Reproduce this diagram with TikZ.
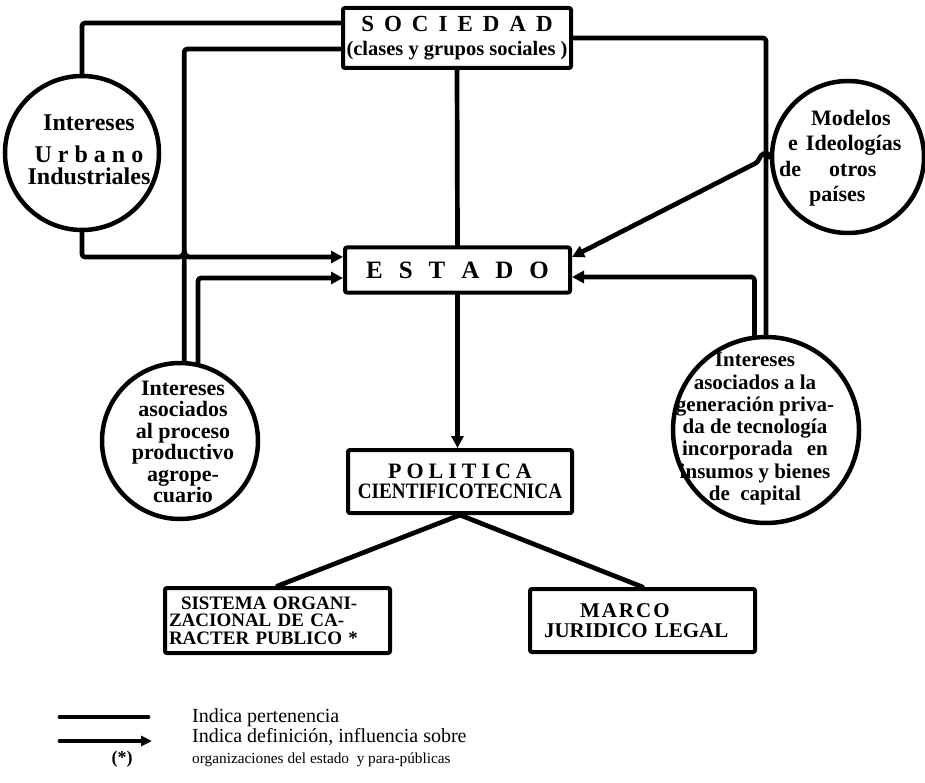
\documentclass[tikz,border=0pt]{standalone}
\usepackage{fontspec}
\setmainfont{Liberation Serif}
\usepackage{graphicx}
\usetikzlibrary{arrows.meta,calc}
\tikzset{
  conn/.style={line width=4.7pt, line join=round, line cap=round, rounded corners=3pt},
  arr/.style={conn, -{Triangle[length=12pt,width=12pt]}},
  box/.style={draw, line width=4pt, rounded corners=2pt, inner sep=0pt},
  circ/.style={draw, circle, line width=4.5pt, inner sep=0pt},
  ctext/.style={font=\bfseries\fontsize{22}{21.5}\selectfont, align=center, inner sep=0pt},
  legend/.style={anchor=base west, inner sep=0pt, font=\fontsize{20}{21}\selectfont},
}
\begin{document}
\begin{tikzpicture}[x=1pt,y=-1pt]
\useasboundingbox (0,0) rectangle (925,783);
% boxes
\node[box, minimum width=228pt, minimum height=60pt, align=center,
      font=\bfseries\fontsize{23}{24.5}\selectfont] (soc) at (457,38)
  {S\hspace{10pt}O\hspace{10pt}C\hspace{10pt}I\hspace{10pt}E\hspace{10pt}D\hspace{10pt}A\hspace{10pt}D\\
   {\fontsize{20.5}{24.5}\selectfont (clases y grupos sociales )}};
\node[box, minimum width=225pt, minimum height=45pt, font=\bfseries\fontsize{25}{25}\selectfont] (est) at (457.5,270)
  {E\hspace{16pt}S\hspace{16pt}T\hspace{16pt}A\hspace{16pt}D\hspace{16pt}O};
\node[box, minimum width=224pt, minimum height=63pt, align=center,
      font=\bfseries\fontsize{22}{20.5}\selectfont] (pol) at (460,481.5)
  {P\hspace{5pt}O\hspace{5pt}L\hspace{5pt}I\hspace{5pt}T\hspace{5pt}I\hspace{5pt}C\hspace{5pt}A\\
   \scalebox{0.87}[1]{CIENTIFICOTECNICA}};
\node[box, minimum width=225pt, minimum height=65pt, text width=217pt, align=left,
      font=\bfseries\fontsize{19}{17.5}\selectfont] (sis) at (277.5,620.5)
  {\hspace*{12pt}SISTEMA ORGANI-\\ ZACIONAL DE CA-\\ RACTER PUBLICO *};
\node[box, minimum width=225pt, minimum height=63pt, text width=215pt, align=left,
      font=\bfseries\fontsize{21}{20}\selectfont] (mar) at (642.5,620.5)
  {\hspace*{45pt}M\hspace{2pt}A\hspace{2pt}R\hspace{2pt}C\hspace{2pt}O\\ \hspace*{9pt}JURIDICO LEGAL};
% circles
\node[circ, minimum size=154pt] (urb) at (82,153) {};
\node[ctext, font=\bfseries\fontsize{24}{22}\selectfont] (urbt) at (89,150)
  {Intereses\\[10pt] U\hspace{6pt}r\hspace{6pt}b\hspace{6pt}a\hspace{6pt}n\hspace{6pt}o\\ Industriales};
\node[circ, minimum size=156pt] (agro) at (180,441) {};
\node[ctext] (agrot) at (183,442)
  {Intereses\\asociados\\al proceso\\productivo\\agrope-\\cuario};
\node[circ, minimum size=152pt] (mod) at (848,157) {};
\node[ctext, align=left, anchor=west, font=\bfseries\fontsize{22}{25.5}\selectfont] (modt) at (778,158)
  {\hspace*{33pt}Modelos\\ \hspace*{10pt}e\hspace{8pt}Ideologías\\ \hspace*{1pt}de\hspace{28pt}otros\\ \hspace*{31pt}países};
\node[circ, minimum size=186pt] (priv) at (766,430) {};
\node[ctext, font=\bfseries\fontsize{21}{22.3}\selectfont] (privt) at (755,429)
  {Intereses\\asociados a la\\generación priva-\\da de tecnología\\incorporada\hspace{14pt}en\\insumos y bienes\\de\ \ capital};
% connectors
\draw[conn] (urb.north) |- ($(soc.west)+(0,-15)$);
\draw[conn] (agro.87) |- ($(soc.west)+(0,11)$);
\coordinate (j1) at ($(agro.87 |- est.west)+(0,-13)$);
\draw[arr] (urb.south) |- ($(j1)+(-8,0)$) .. controls ($(j1)+(-3,0)$) and ($(j1)+(0,-3)$) .. ($(j1)+(0,-8)$)
  .. controls ($(j1)+(0,-3)$) and ($(j1)+(3,0)$) .. ($(j1)+(8,0)$) -- ($(est.west)+(0,-13)$);
\draw[arr] (agro.77) |- ($(est.west)+(0,8)$);
\draw[conn] (soc.east) -| (priv.north);
\draw[arr] (priv.97) |- ($(est.east)+(0,7)$);
\coordinate (j2) at (priv.north |- mod.west);
\draw[arr] (mod.west) -- ($(j2)+(4,0)$) .. controls ($(j2)+(1,-5)$) and ($(j2)+(-5,-4)$) .. ($(j2)+(-8,5)$)
  -- ($(est.east)+(0,-13)$);
\draw[conn] (soc.south) -- (est.north);
\draw[arr] (est.south) -- (est.south |- pol.north);
\draw[conn] (pol.south) -- (sis.north);
\draw[conn] (pol.south) -- (mar.north);
% legend
\coordinate (l1a) at (60,717); \coordinate (l1b) at (148,717);
\coordinate (l2a) at (60,741); \coordinate (l2b) at (152,741);
\draw[conn] (l1a) -- (l1b);
\draw[conn, -{Triangle[length=11pt,width=10pt]}] (l2a) -- (l2b);
\node[legend] (lg1) at (192,722) {Indica pertenencia};
\node[legend] (lg2) at (192,742) {Indica definición, influencia sobre};
\node[legend, font=\fontsize{15.3}{18}\selectfont] (lg3) at (192,763) {organizaciones del estado\ \ y para-públicas};
\node[anchor=base, inner sep=0pt, font=\bfseries\fontsize{18}{18}\selectfont] (ast) at (122,763) {(*)};
\end{tikzpicture}
\end{document}
